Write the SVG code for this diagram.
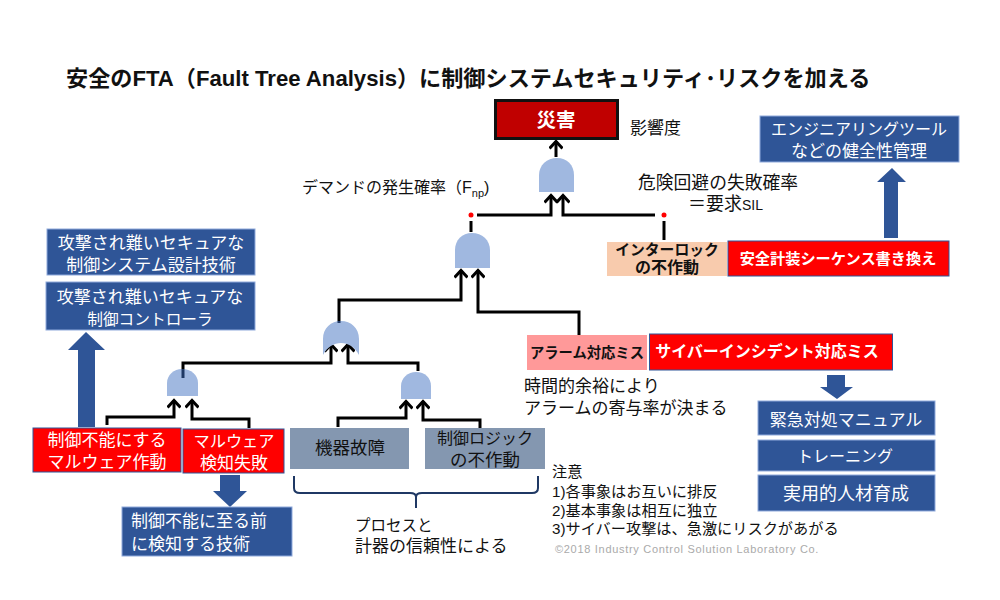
<svg xmlns="http://www.w3.org/2000/svg" width="1000" height="600" viewBox="0 0 1000 600">
<defs>
<marker id="ah" viewBox="0 0 13 14" refX="11" refY="7" markerWidth="13" markerHeight="14" markerUnits="userSpaceOnUse" orient="auto"><path d="M3.500 0.500L10.500 7L3.500 13.500" fill="none" stroke="#000" stroke-width="3"/></marker>
</defs>
<style>
text{font-family:"Liberation Sans","Noto Sans CJK JP",sans-serif;text-anchor:middle}
.b{fill:#2f5597;stroke:#8faadc;stroke-width:1}
.r{fill:#ff0000;stroke:#2f5597;stroke-width:1}
.g{fill:#8497b0}
.w{fill:#fff;font-size:17px}
.k{fill:#111;font-size:17px}
.l{text-anchor:start}
.gate{fill:#a0b8e0}
.c{fill:none;stroke:#000;stroke-width:3}
.cm{marker-end:url(#ah)}
.t{fill:none;stroke:#1f3864;stroke-width:3}
.big{fill:#2f5597}
.n{font-size:15.2px;fill:#111}
</style>
<rect width="1000" height="600" fill="#fff"/>
<text x="66" y="86" class="l" style="font-size:22.15px;font-weight:700;fill:#111">安全のFTA（Fault Tree Analysis）に制御システムセキュリティ･リスクを加える</text>

<g id="connectors">
<path class="c cm" d="M556 157V141"/>
<path class="c cm" d="M477 215H551V195"/>
<path class="c cm" d="M655 215H563V195"/>
<path class="c" d="M471 221V232"/>
<path class="c" d="M664 221V240"/>
<path class="c cm" d="M339 321V300H461V270"/>
<path class="c cm" d="M579 335V312H478V270"/>
<path class="c cm" d="M183 369V363H331V344"/>
<path class="c cm" d="M418 371V363H348V344"/>
<path class="c cm" d="M107 425V417H174V400"/>
<path class="c cm" d="M249 428V419H192V400"/>
<path class="c cm" d="M338 427V418H406V401"/>
<path class="c cm" d="M480 429V420H423V401"/>
</g>
<path id="arrow-up-left" class="big" d="M78 427V350H68L86 332L105 350H95V427Z"/>
<path id="arrow-up-right" class="big" d="M884 238V182H877L892 168L906 182H898V238Z"/>
<path id="arrow-down-left" class="big" d="M220 475H240V491H247L230 507L213 491H220Z"/>
<path id="arrow-down-right" class="big" d="M827 375H845V387H853L837 399L820 387H827Z"/>

<g id="n-disaster"><rect x="495.500" y="100.500" width="122" height="38" fill="#c00000" stroke="#111" stroke-width="3"/><text x="556" y="127" style="font-size:19.500px;font-weight:700;fill:#fff">災害</text></g>
<text id="t-impact" x="630" y="134" class="k l">影響度</text>
<g id="n-gate1"><path class="gate" d="M539 192V175C539 165 547 158 557 158C567 158 574 165 574 175V192Z"/></g>
<g id="n-gate2"><path class="gate" d="M455 268V250C455 240 462 233 472 233C482 233 490 240 490 250V268Z"/></g>
<g id="n-gate3"><path class="gate" d="M323 355V339C323 328 331 321 341 321C351 321 359 328 359 339V355C351 339 331 339 323 355Z"/><path class="t" d="M339 321V323"/></g>
<g id="n-gate4"><path class="gate" d="M167 396V383C167 375 174 369 182 369C191 369 198 375 198 383V396Z"/><path class="t" d="M183 369V378"/></g>
<g id="n-gate5"><path class="gate" d="M401 399V386C401 378 408 372 416 372C425 372 431 378 431 386V399Z"/></g>
<circle cx="471" cy="215" r="2.500" fill="#f00"/><circle cx="664" cy="215" r="2.500" fill="#f00"/>
<text id="t-demand" x="302" y="193" class="k l" style="font-size:16px">デマンドの発生確率（F<tspan font-size="11" dy="4">np</tspan><tspan dy="-4">)</tspan></text>
<text id="t-risk" x="638" y="189" class="k l" style="font-size:17.800px">危険回避の失敗確率</text>
<text x="688" y="210" class="k l" style="font-size:18px">＝要求<tspan font-size="14">SIL</tspan></text>

<g id="n-eng"><rect class="b" x="760" y="116" width="199" height="46"/><text x="859" y="135" class="w" style="font-size:16px">エンジニアリングツール</text><text x="859" y="157" class="w">などの健全性管理</text></g>
<g id="n-interlock"><rect x="607" y="242" width="120" height="34" fill="#f8cbad"/><text x="667" y="255" style="font-size:14.800px;font-weight:700;fill:#111">インターロック</text><text x="667" y="273" style="font-size:16px;font-weight:700;fill:#111">の不作動</text></g>
<g id="n-sis"><rect class="r" x="728" y="241" width="221" height="35"/><text x="838" y="264" style="font-size:15.200px;font-weight:700;fill:#fff">安全計装シーケンス書き換え</text></g>
<g id="n-sec1"><rect class="b" x="47" y="229" width="208" height="46"/><text x="151" y="249" class="w">攻撃され難いセキュアな</text><text x="151" y="271" class="w">制御システム設計技術</text></g>
<g id="n-sec2"><rect class="b" x="46" y="282" width="209" height="48"/><text x="150" y="303" class="w">攻撃され難いセキュアな</text><text x="150" y="325" class="w" style="font-size:15.700px">制御コントローラ</text></g>
<g id="n-alarm"><rect x="527" y="335" width="120" height="35" fill="#ff9999"/><text x="587" y="358" style="font-size:14.300px;font-weight:700;fill:#111">アラーム対応ミス</text></g>
<g id="n-cyber"><rect class="r" x="649.500" y="334" width="243" height="36"/><text x="767" y="357" style="font-size:16px;font-weight:700;fill:#fff">サイバーインシデント対応ミス</text></g>
<text id="t-time1" x="524" y="392" class="k l">時間的余裕により</text>
<text id="t-time2" x="524" y="414" class="k l">アラームの寄与率が決まる</text>
<g id="n-manual"><rect class="b" x="758" y="401" width="177" height="34"/><text x="846" y="426" class="w">緊急対処マニュアル</text></g>
<g id="n-train"><rect class="b" x="758" y="440" width="177" height="31"/><text x="845" y="462" class="w" style="font-size:16px">トレーニング</text></g>
<g id="n-hr"><rect class="b" x="758" y="475" width="177" height="36"/><text x="846" y="500" class="w" style="font-size:18px">実用的人材育成</text></g>
<g id="n-mal1"><rect class="r" x="33" y="428" width="148" height="44"/><text x="107" y="446" class="w">制御不能にする</text><text x="107" y="468" class="w">マルウェア作動</text></g>
<g id="n-mal2"><rect class="r" x="183" y="429" width="101" height="44"/><text x="234" y="447" class="w" style="font-size:16.200px">マルウェア</text><text x="234" y="469" class="w">検知失敗</text></g>
<g id="n-fail"><rect class="g" x="290" y="428" width="119" height="41"/><text x="350" y="454" style="font-size:17.500px;fill:#111">機器故障</text></g>
<g id="n-logic"><rect class="g" x="425" y="428" width="120" height="41"/><text x="485" y="444" style="font-size:16px;fill:#111">制御ロジック</text><text x="485" y="466" style="font-size:17.500px;fill:#111">の不作動</text></g>
<g id="n-detect"><rect class="b" x="122" y="507" width="170" height="49"/><text x="131" y="527" class="w l">制御不能に至る前</text><text x="131" y="550" class="w l">に検知する技術</text></g>
<path id="brace" d="M294 476V488Q294 493 300 493H410Q416 493 416 497V508V497Q416 493 422 493H532Q538 493 538 488V476" fill="none" stroke="#1f3864" stroke-width="2"/>
<text x="355" y="531" class="k l" style="font-size:15.500px">プロセスと</text>
<text x="355" y="552" class="k l">計器の信頼性による</text>
<g>
<text x="552" y="477" class="l n">注意</text>
<text x="552" y="497" class="l n">1)各事象はお互いに排反</text>
<text x="552" y="516" class="l n">2)基本事象は相互に独立</text>
<text x="552" y="534" class="l n">3)サイバー攻撃は、急激にリスクがあがる</text>
</g>
<text x="555" y="553" class="l" style="font-size:11px;fill:#aaa;letter-spacing:.7px">©2018 Industry Control Solution Laboratory Co.</text>
</svg>
